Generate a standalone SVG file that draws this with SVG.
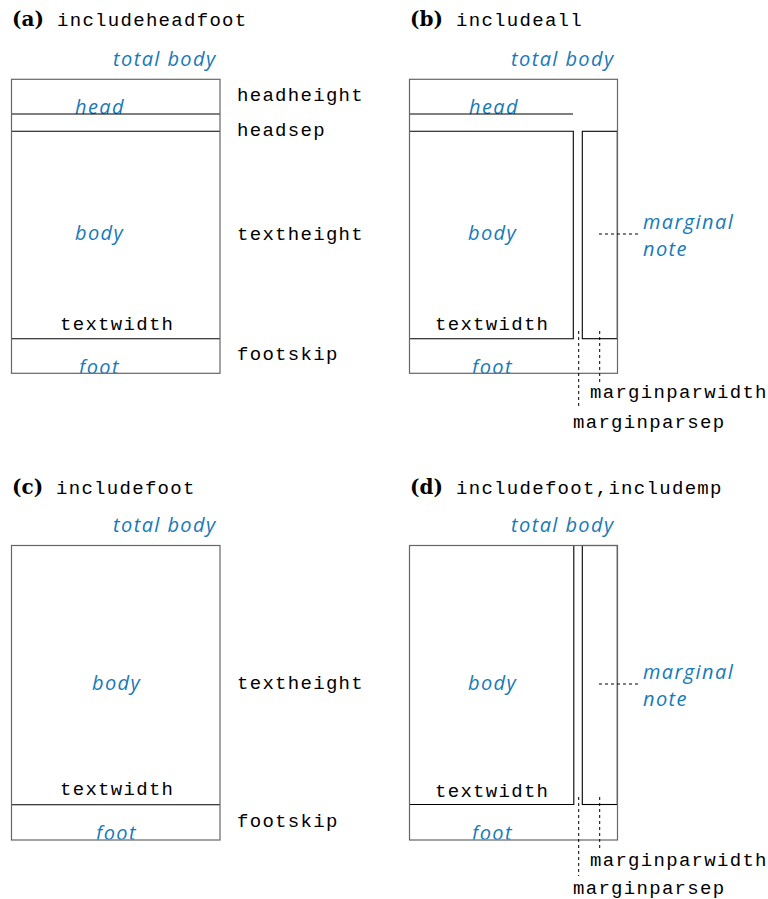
<svg xmlns="http://www.w3.org/2000/svg" width="768" height="899" viewBox="0 0 768 899">
<style>
.outer{fill:none;stroke:#666;stroke-width:1.2}
.ln{fill:none;stroke:#000;stroke-width:1.1}
.dash{fill:none;stroke:#000;stroke-width:1;stroke-dasharray:3 3}
.blue{font-family:"Open Sans","DejaVu Sans",sans-serif;font-style:italic;font-size:20px;letter-spacing:1.4px;fill:#1679b8}
.mono{font-family:"Liberation Mono","DejaVu Sans Mono",monospace;font-size:19px;letter-spacing:1.3px;fill:#000}
.lbl{font-family:"DejaVu Serif",serif;font-weight:bold;font-size:20px;fill:#000}
</style>
<defs>
  <clipPath id="clipHeadA"><rect x="11" y="79" width="209" height="35"/></clipPath>
  <clipPath id="clipFootA"><rect x="11" y="339" width="209" height="34.3"/></clipPath>
  <clipPath id="clipHeadB"><rect x="409" y="79" width="164" height="35"/></clipPath>
  <clipPath id="clipFootB"><rect x="409" y="339" width="208" height="34.3"/></clipPath>
  <clipPath id="clipFootC"><rect x="11" y="805" width="209" height="34.5"/></clipPath>
  <clipPath id="clipFootD"><rect x="409" y="805" width="208" height="34.5"/></clipPath>
</defs>
<rect width="768" height="899" fill="#fff"/>

<!-- Panel (a) -->
<g id="panel-a">
  <text class="lbl" x="12" y="26">(a)</text>
  <text class="mono" x="57" y="26">includeheadfoot</text>
  <text class="blue" x="113" y="66">total body</text>
  <g id="a-head">
    <text class="blue" x="75" y="114" clip-path="url(#clipHeadA)">head</text>
    <line class="ln" x1="11.5" y1="114" x2="220" y2="114"/>
    <line class="ln" x1="11.5" y1="131.3" x2="220" y2="131.3"/>
  </g>
  <g id="a-body">
    <text class="blue" x="75" y="240">body</text>
    <text class="mono" x="60" y="330">textwidth</text>
    <line class="ln" x1="11.5" y1="338.7" x2="220" y2="338.7"/>
  </g>
  <g id="a-foot">
    <text class="blue" x="79" y="373.5" clip-path="url(#clipFootA)">foot</text>
  </g>
  <rect class="outer" x="11.5" y="79.3" width="208.5" height="294"/>
  <text class="mono" x="237" y="101">headheight</text>
  <text class="mono" x="237" y="136">headsep</text>
  <text class="mono" x="237" y="240">textheight</text>
  <text class="mono" x="237" y="360">footskip</text>
</g>

<!-- Panel (b) -->
<g id="panel-b">
  <text class="lbl" x="410" y="26">(b)</text>
  <text class="mono" x="456" y="26">includeall</text>
  <text class="blue" x="511" y="66">total body</text>
  <g id="b-head">
    <text class="blue" x="469" y="114" clip-path="url(#clipHeadB)">head</text>
    <line class="ln" x1="409.5" y1="114" x2="573" y2="114"/>
  </g>
  <g id="b-body">
    <path class="ln" d="M409.5 131.3 H573.3 V338.7 H409.5"/>
    <text class="blue" x="468" y="240">body</text>
    <text class="mono" x="435" y="330">textwidth</text>
  </g>
  <g id="b-margin">
    <rect class="ln" x="582.3" y="131.3" width="35" height="207.4"/>
  </g>
  <g id="b-foot">
    <text class="blue" x="472" y="373.5" clip-path="url(#clipFootB)">foot</text>
  </g>
  <rect class="outer" x="409.5" y="79.3" width="208" height="294"/>
  <g id="b-connectors">
    <line class="dash" x1="578.7" y1="331" x2="578.7" y2="408"/>
    <line class="dash" x1="599.7" y1="331" x2="599.7" y2="382"/>
    <line class="dash" x1="599" y1="234" x2="639" y2="234"/>
  </g>
  <text class="blue" x="643" y="229">marginal</text>
  <text class="blue" x="643" y="256">note</text>
  <text class="mono" x="590" y="398">marginparwidth</text>
  <text class="mono" x="573" y="428">marginparsep</text>
</g>

<!-- Panel (c) -->
<g id="panel-c">
  <text class="lbl" x="12" y="494">(c)</text>
  <text class="mono" x="56" y="494">includefoot</text>
  <text class="blue" x="113" y="532">total body</text>
  <g id="c-body">
    <text class="blue" x="92" y="690">body</text>
    <text class="mono" x="60" y="795">textwidth</text>
    <line class="ln" x1="11.5" y1="804.7" x2="220" y2="804.7"/>
  </g>
  <g id="c-foot">
    <text class="blue" x="96" y="840" clip-path="url(#clipFootC)">foot</text>
  </g>
  <rect class="outer" x="11.5" y="545.5" width="208.5" height="294.5"/>
  <text class="mono" x="237" y="689">textheight</text>
  <text class="mono" x="237" y="827">footskip</text>
</g>

<!-- Panel (d) -->
<g id="panel-d">
  <text class="lbl" x="410" y="494">(d)</text>
  <text class="mono" x="456" y="494">includefoot,includemp</text>
  <text class="blue" x="511" y="532">total body</text>
  <g id="d-body">
    <path class="ln" d="M573.8 545.5 V804.5 H409.5"/>
    <text class="blue" x="468" y="690">body</text>
    <text class="mono" x="435" y="797">textwidth</text>
  </g>
  <g id="d-margin">
    <rect class="ln" x="582.3" y="545.5" width="35" height="259"/>
  </g>
  <g id="d-foot">
    <text class="blue" x="472" y="840" clip-path="url(#clipFootD)">foot</text>
  </g>
  <rect class="outer" x="409.5" y="545.5" width="208" height="294.5"/>
  <g id="d-connectors">
    <line class="dash" x1="578.7" y1="797" x2="578.7" y2="876"/>
    <line class="dash" x1="599.7" y1="797" x2="599.7" y2="848"/>
    <line class="dash" x1="599" y1="684" x2="639" y2="684"/>
  </g>
  <text class="blue" x="643" y="679">marginal</text>
  <text class="blue" x="643" y="706">note</text>
  <text class="mono" x="590" y="866">marginparwidth</text>
  <text class="mono" x="573" y="894">marginparsep</text>
</g>
</svg>
